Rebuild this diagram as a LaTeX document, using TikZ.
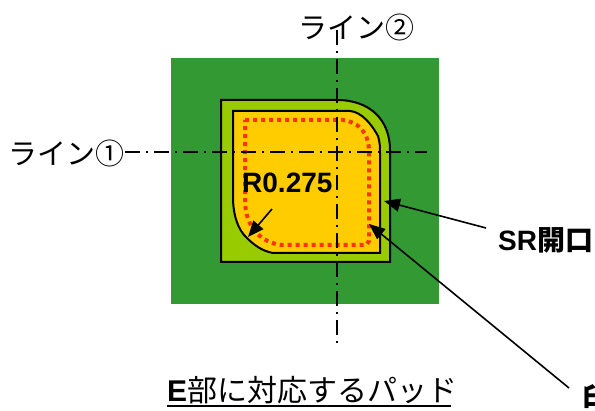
\documentclass[tikz,border=0pt]{standalone}
\usepackage{fontspec}
\setmainfont{Liberation Sans}
\newfontfamily\jpfont{Noto Sans CJK JP}
\usetikzlibrary{arrows.meta}
\definecolor{padgreen}{HTML}{339933}
\definecolor{srgreen}{HTML}{99CC00}
\definecolor{padyellow}{HTML}{FFCC00}
\definecolor{dotred}{HTML}{FF3300}
\tikzset{
  x=1pt,y=-1pt,
  outline/.style={draw=black,line width=2pt,line join=miter},
  axisline/.style={draw=black,line width=1.3pt,dash pattern=on 15pt off 6pt on 2pt off 6pt},
  pointer/.style={draw=black,line width=1.6pt,-{Triangle[length=16pt,width=13pt]}},
  thinpointer/.style={draw=black,line width=1.6pt,-{Triangle[length=16pt,width=13pt]}},
  jplabel/.style={inner sep=0pt,font=\fontsize{29}{29}\selectfont\jpfont},
  boldlabel/.style={inner sep=0pt,font=\fontsize{28}{28}\selectfont\bfseries},
}
\begin{document}
\begin{tikzpicture}
\useasboundingbox (0,0) rectangle (595,411);
\fill[padgreen] (171,58) rectangle (439,304);
% SR opening
\path[outline,fill=srgreen] (221,100) -- (337,100) .. controls (370,100) and (390,120) .. (390,150) -- (390,262) -- (221,262) -- cycle;
% pad
\path[outline,fill=padyellow] (233,111) -- (350,111) .. controls (362,112) and (372,125) .. (378,136) .. controls (380,143) and (380,147) .. (380,153) -- (380,253) -- (273,253) .. controls (262,251) and (254,245) .. (247,238) .. controls (238,230) and (233,215) .. (233,197) -- cycle;
% print outline
\draw[dotred,line width=4pt,dash pattern=on 4pt off 4pt]
  (245,120) -- (343,120) .. controls (358,122) and (369,132) .. (369,152) -- (369,241) -- (366,245) -- (282,245) .. controls (262,243) and (245,228) .. (245,200) -- cycle;
% centre lines
\node[jplabel,anchor=west] (lineone) at (8,153) {ライン①};
\node[jplabel,anchor=west] (linetwo) at (298,27) {ライン②};
\coordinate (hstart) at (125,152);
\coordinate (hend) at (427,152);
\coordinate (vstart) at (337,30);
\coordinate (vend) at (337,344);
\draw[axisline] (hstart) -- (hend);
\draw[axisline] (vstart) -- (vend);
% radius
\node[boldlabel,anchor=west] (radius) at (242,183) {R0.275};
\coordinate (rtail) at (272,209);
\coordinate (rtip) at (248,237);
\draw[pointer] (rtail) -- (rtip);
% SR label
\node[boldlabel,anchor=west] (srlabel) at (498,240) {SR{\jpfont 開口}};
\coordinate (srtail) at (486,228);
\coordinate (srtip) at (384,201);
\draw[thinpointer] (srtail) -- (srtip);
% print label
\node[boldlabel,anchor=west] (printlabel) at (582,398) {\jpfont 印};
\coordinate (ptail) at (569,388);
\coordinate (ptip) at (369,224);
\draw[thinpointer] (ptail) -- (ptip);
% caption
\node[inner sep=0pt,anchor=west,font=\fontsize{30}{30}\selectfont] (caption) at (167,390) {\textbf{E}{\jpfont 部に対応するパッド}};
\coordinate (ulstart) at (167,406);
\coordinate (ulend) at (451,406);
\draw[black,line width=1.8pt] (ulstart) -- (ulend);
\end{tikzpicture}
\end{document}
